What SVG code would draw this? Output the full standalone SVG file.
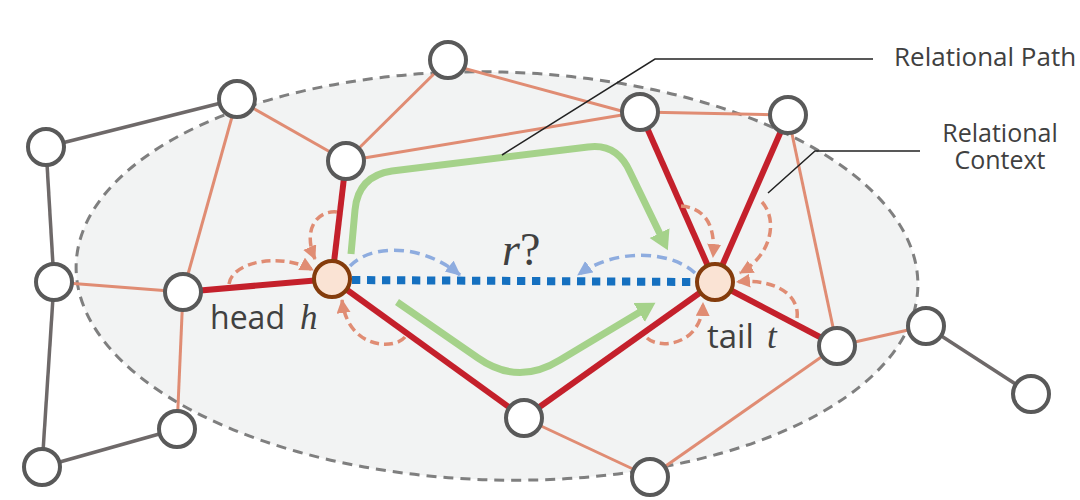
<svg xmlns="http://www.w3.org/2000/svg" width="1080" height="500" viewBox="0 0 1080 500">
<style>
.n{fill:#fff;stroke:#595959;stroke-width:4}
.ht{fill:#fae3d4;stroke:#843c0c;stroke-width:4}
.g{stroke:#6e6969;stroke-width:3.5;fill:none}
.s{stroke:#e08c73;stroke-width:3;fill:none}
.r{stroke:#c4202b;stroke-width:6;fill:none}
.sa{stroke:#e08c73;stroke-width:3.5;fill:none;stroke-dasharray:9 5;marker-end:url(#sArr)}
.ba{stroke:#8eacdf;stroke-width:3.5;fill:none;stroke-dasharray:10 6;marker-end:url(#bArr)}
.gr{stroke:#a5d28a;stroke-width:7;fill:none;marker-end:url(#gArr)}
.lead{stroke:#222;stroke-width:1.5;fill:none}
.lbl{font-family:'Open Sans','Noto Sans',sans-serif;fill:#404040}
.math{font-family:'Liberation Serif','DejaVu Serif',serif;font-style:italic;fill:#404040}
</style>
<defs>
<marker id="sArr" markerUnits="userSpaceOnUse" markerWidth="16" markerHeight="16" refX="13" refY="7" orient="auto"><path d="M0,0 L14,7 L0,14 z" fill="#e08c73"/></marker>
<marker id="bArr" markerUnits="userSpaceOnUse" markerWidth="17" markerHeight="17" refX="14" refY="7" orient="auto"><path d="M0,0 L15,7 L0,14 z" fill="#8eacdf"/></marker>
<marker id="gArr" markerUnits="userSpaceOnUse" markerWidth="24" markerHeight="24" refX="1" refY="11" orient="auto"><path d="M0,0 L19,11 L0,22 z" fill="#a5d28a"/></marker>
</defs>
<ellipse cx="497" cy="276" rx="421" ry="204" transform="rotate(1.5 497 276)" fill="#f2f3f3" stroke="#7f7f7f" stroke-width="3" stroke-dasharray="10 7"/>
<g id="connectors">
<line class="g" x1="46" y1="147" x2="237" y2="99"/>
<line class="g" x1="46" y1="147" x2="54" y2="282"/>
<line class="g" x1="54" y1="282" x2="42" y2="467"/>
<line class="g" x1="42" y1="467" x2="177" y2="429"/>
<line class="g" x1="926" y1="326" x2="1031" y2="394"/>
<line class="s" x1="237" y1="99" x2="346" y2="161"/>
<line class="s" x1="237" y1="99" x2="183" y2="292"/>
<line class="s" x1="448" y1="60" x2="346" y2="161"/>
<line class="s" x1="448" y1="64" x2="640" y2="116"/>
<line class="s" x1="346" y1="161" x2="640" y2="112"/>
<line class="s" x1="640" y1="112" x2="788" y2="115"/>
<line class="s" x1="788" y1="115" x2="837" y2="346"/>
<line class="s" x1="54" y1="282" x2="183" y2="292"/>
<line class="s" x1="183" y1="292" x2="177" y2="429"/>
<line class="s" x1="837" y1="346" x2="926" y2="326"/>
<line class="s" x1="837" y1="346" x2="650" y2="477"/>
<line class="s" x1="524" y1="418" x2="650" y2="477"/>
<line class="r" x1="346" y1="161" x2="332" y2="279"/>
<line class="r" x1="183" y1="292" x2="332" y2="279"/>
<line class="r" x1="332" y1="279" x2="524" y2="418"/>
<line class="r" x1="524" y1="418" x2="715" y2="282"/>
<line class="r" x1="640" y1="112" x2="715" y2="282"/>
<line class="r" x1="788" y1="115" x2="715" y2="282"/>
<line class="r" x1="715" y1="282" x2="837" y2="346"/>
<path class="gr" d="M351,254 L355,210 Q358,176 392,171 L588,147 Q617,143 630,172 L660,234"/>
<path class="gr" d="M397,302 L478,358 Q518,386 560,360 L640,312"/>
<line x1="352" y1="280" x2="696" y2="282" stroke="#1570c0" stroke-width="8" stroke-dasharray="8.3 6.7"/>
<path class="ba" d="M350,266 C370,245 420,242 460,275"/>
<path class="ba" d="M695,273 C670,250 615,248 578,275"/>
<path class="sa" d="M337,212 C315,210 303,232 315,259"/>
<path class="sa" d="M229,284 C232,262 280,252 313,270"/>
<path class="sa" d="M405,337 C395,350 348,350 342,300"/>
<path class="sa" d="M681,206 C705,208 716,225 713,257"/>
<path class="sa" d="M762,202 C778,220 772,255 740,273"/>
<path class="sa" d="M797,318 C800,295 775,278 737,282"/>
<path class="sa" d="M647,338 C660,350 702,345 703,303"/>
<polyline class="lead" points="873,59 655,59 502,155"/>
<polyline class="lead" points="920,151 815,151 768,193"/>
</g>
<g id="n1"><circle class="n" cx="46" cy="147" r="18"/></g>
<g id="n2"><circle class="n" cx="237" cy="99" r="18"/></g>
<g id="n3"><circle class="n" cx="448" cy="60" r="18"/></g>
<g id="n4"><circle class="n" cx="346" cy="161" r="18"/></g>
<g id="n5"><circle class="n" cx="640" cy="112" r="18"/></g>
<g id="n6"><circle class="n" cx="788" cy="115" r="18"/></g>
<g id="n7"><circle class="n" cx="54" cy="282" r="18"/></g>
<g id="n8"><circle class="n" cx="183" cy="292" r="18"/></g>
<g id="n9"><circle class="n" cx="837" cy="346" r="18"/></g>
<g id="n10"><circle class="n" cx="926" cy="326" r="18"/></g>
<g id="n11"><circle class="n" cx="1031" cy="394" r="18"/></g>
<g id="n12"><circle class="n" cx="177" cy="429" r="18"/></g>
<g id="n13"><circle class="n" cx="42" cy="467" r="18"/></g>
<g id="n14"><circle class="n" cx="524" cy="418" r="18"/></g>
<g id="n15"><circle class="n" cx="650" cy="477" r="18"/></g>
<g id="head"><circle class="ht" cx="332" cy="279" r="18"/><text class="lbl" x="210" y="329" font-size="32">head</text><text class="math" x="300" y="329" font-size="35">h</text></g>
<g id="tail"><circle class="ht" cx="715" cy="282" r="18"/><text class="lbl" x="707" y="348" font-size="33">tail</text><text class="math" x="767" y="348" font-size="35">t</text></g>
<g id="query"><text x="502" y="265" font-family="'Liberation Serif','DejaVu Serif',serif" font-size="46" fill="#404040"><tspan font-style="italic">r</tspan>?</text></g>
<g id="label-path"><text class="lbl" x="894" y="66" font-size="26">Relational Path</text></g>
<g id="label-context"><text class="lbl" x="1000" y="142" font-size="25" text-anchor="middle">Relational</text><text class="lbl" x="1000" y="169" font-size="25" text-anchor="middle">Context</text></g>
</svg>
